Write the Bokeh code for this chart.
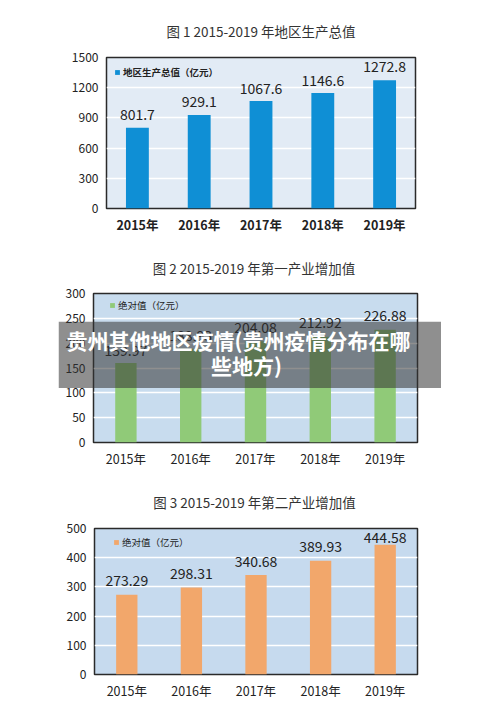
from bokeh.plotting import figure
from bokeh.models import (ColumnDataSource, LabelSet, Label, BoxAnnotation,
                          FixedTicker, Range1d, Legend, LegendItem)
from bokeh.embed import file_html
from bokeh.resources import INLINE
from bokeh.core.properties import value

# ---------------- data ----------------
years = ["2015年", "2016年", "2017年", "2018年", "2019年"]
gdp = [801.7, 929.1, 1067.6, 1146.6, 1272.8]
primary = [159.97, 188.93, 204.08, 212.92, 226.88]
secondary = [273.29, 298.31, 340.68, 389.93, 444.58]

titles = ["图 1 2015-2019 年地区生产总值",
          "图 2  2015-2019 年第一产业增加值",
          "图 3  2015-2019 年第二产业增加值"]
legend_texts = ["地区生产总值（亿元）", "绝对值（亿元）", "绝对值（亿元）"]
y_ticks = [[0, 300, 600, 900, 1200, 1500],
           [0, 50, 100, 150, 200, 250, 300],
           [0, 100, 200, 300, 400, 500]]
banner_lines = ["贵州其他地区疫情(贵州疫情分布在哪", "些地方)"]

FONT = "Noto Sans CJK SC"


def make_chart(title, vals, fmt, ticks, color, bg, legend_text, bold_x,
               height, b_top, b_bottom, b_left, b_right, bar_w, offs,
               title_standoff, legend_loc):
    labels = [fmt.format(v) for v in vals]
    src = ColumnDataSource(dict(x=years, y=vals, lab=labels, off=offs))
    p = figure(x_range=years, y_range=Range1d(ticks[0], ticks[-1]),
               width=500, height=height, output_backend="svg",
               toolbar_location=None, tools="")
    p.min_border_top = b_top
    p.min_border_bottom = b_bottom
    p.min_border_left = b_left
    p.min_border_right = b_right
    p.background_fill_color = bg
    p.border_fill_color = "white"
    p.outline_line_color = "#2a2a2a"
    p.outline_line_width = 1.5

    p.title.text = title
    p.title.align = "center"
    p.title.text_font = FONT
    p.title.text_font_size = "13.5px"
    p.title.text_font_style = "normal"
    p.title.text_color = "#333333"
    p.title.standoff = title_standoff

    r = p.vbar(x="x", top="y", width=bar_w, source=src, fill_color=color,
               line_color=None)

    p.add_layout(LabelSet(x="x", y="y", text="lab", source=src,
                          text_align="center", text_baseline="middle",
                          y_offset="off", text_font=value(FONT),
                          text_font_size="14px", text_color="#222222"))

    leg = Legend(items=[LegendItem(label=legend_text, renderers=[r])],
                 location=legend_loc)
    leg.background_fill_alpha = 0
    leg.border_line_color = None
    leg.glyph_width = 6
    leg.glyph_height = 6
    leg.label_height = 10
    leg.label_width = 10
    leg.label_standoff = 3
    leg.margin = 8
    leg.padding = 4
    leg.label_text_font = FONT
    leg.label_text_font_size = "9.5px"
    leg.label_text_font_style = "bold" if bold_x else "normal"
    leg.label_text_color = "#222222"
    p.add_layout(leg)

    p.xgrid.grid_line_color = None
    p.ygrid.grid_line_color = "white"
    p.ygrid.grid_line_width = 1.5
    p.yaxis.ticker = FixedTicker(ticks=ticks)

    for ax in (p.xaxis[0], p.yaxis[0]):
        ax.axis_line_color = None
        ax.major_tick_line_color = None
        ax.minor_tick_line_color = None
        ax.major_tick_out = 0
        ax.major_tick_in = 0
        ax.minor_tick_out = 0
        ax.minor_tick_in = 0
        ax.major_label_text_font = FONT
        ax.major_label_text_color = "#222222"
    p.yaxis.major_label_text_font_size = "12px"
    p.yaxis.major_label_standoff = 8
    p.xaxis.major_label_text_font_size = "12.5px"
    p.xaxis.major_label_standoff = 6
    p.xaxis.major_label_text_font_style = "bold" if bold_x else "normal"
    return p


p1 = make_chart(titles[0], gdp, "{:.1f}", y_ticks[0], "#0f8fd5", "#e2ebf5",
                legend_texts[0], True, 240, 57, 32, 106, 85, 0.37,
                [13, 13, 13, 13, 14], 34, "top_left")
p2 = make_chart(titles[1], primary, "{:.2f}", y_ticks[1], "#90ca78", "#c8dcee",
                legend_texts[1], False, 232, 52, 30, 93, 83, 0.33,
                [13, 13, 14, 14, 14], 31, (16, 130))
p3 = make_chart(titles[2], secondary, "{:.2f}", y_ticks[2], "#f2a76b", "#c6daee",
                legend_texts[2], False, 237, 56, 35, 94, 83, 0.33,
                [14, 14, 14, 14, 7], 34, (19, 125))

# semi-transparent banner laid over the second chart
banner = figure(width=383, height=67, output_backend="svg",
                toolbar_location=None, tools="", x_axis_type=None,
                y_axis_type=None, x_range=Range1d(0, 1), y_range=Range1d(0, 1),
                min_border=0,
                styles={"position": "absolute", "left": "58px", "top": "321px",
                        "z-index": "10"})
banner.border_fill_color = None
banner.background_fill_color = None
banner.outline_line_color = None
banner.grid.visible = False
banner.add_layout(BoxAnnotation(fill_color="#333333", fill_alpha=0.55,
                                line_color=None))
banner.add_layout(Label(x=180, y=49, x_units="screen", y_units="screen",
                        text=banner_lines[0], text_align="center",
                        text_baseline="middle", text_font=FONT,
                        text_font_size="21px", text_font_style="bold",
                        text_color="white"))
banner.add_layout(Label(x=188, y=24, x_units="screen", y_units="screen",
                        text=banner_lines[1], text_align="center",
                        text_baseline="middle", text_font=FONT,
                        text_font_size="21px", text_font_style="bold",
                        text_color="white"))

open("out.html", "w").write(file_html([p1, p2, p3, banner], INLINE))
